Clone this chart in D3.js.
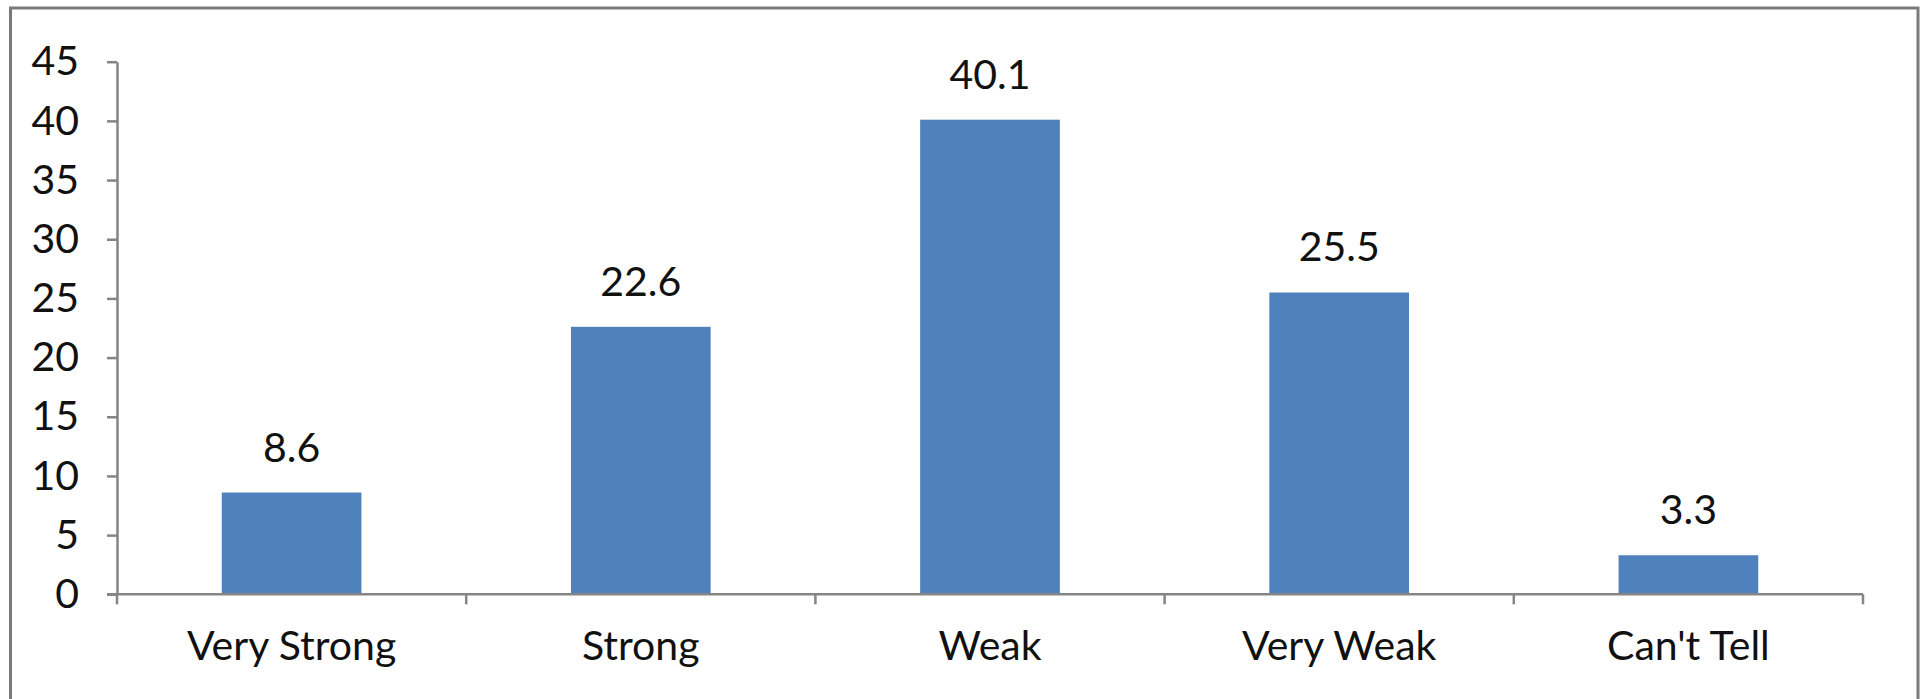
<!DOCTYPE html>
<html>
<head>
<meta charset="utf-8">
<script src="https://cdn.jsdelivr.net/npm/d3@7"></script>
<style>
  html, body { margin: 0; padding: 0; background: #fff; }
  svg { display: block; }
  text { font-family: Lato, "Open Sans", sans-serif; fill: #111; }
</style>
</head>
<body>
<svg id="chart" width="1921" height="699"></svg>
<script>
// Response shares per rating (percent)
const categories = ["Very Strong", "Strong", "Weak", "Very Weak", "Can't Tell"];
const values = [8.6, 22.6, 40.1, 25.5, 3.3];
const yTicks = [0, 5, 10, 15, 20, 25, 30, 35, 40, 45];

const W = 1921, H = 699;
const plot = { left: 117, right: 1863, top: 61.7, bottom: 594.3 };
const fontSize = 41;
const axisColor = "#858585";

const svg = d3.select("#chart");

// outer frame of the chart area (bottom edge runs off the page)
svg.append("rect")
  .attr("x", 10.5).attr("y", 8)
  .attr("width", 1918 - 10.5).attr("height", H + 20)
  .attr("fill", "#fff")
  .attr("stroke", "#7a7a7a")
  .attr("stroke-width", 3);

const x = d3.scaleBand()
  .domain(categories)
  .range([plot.left, plot.right])
  .paddingInner(0.6)
  .paddingOuter(0.3);

const y = d3.scaleLinear()
  .domain([0, 45])
  .range([plot.bottom, plot.top]);

// bars
svg.append("g")
  .selectAll("rect")
  .data(values)
  .join("rect")
  .attr("x", (d, i) => x(categories[i]))
  .attr("y", d => y(d))
  .attr("width", x.bandwidth())
  .attr("height", d => y(0) - y(d))
  .attr("fill", "#4F81BD");

// value labels
svg.append("g")
  .selectAll("text")
  .data(values)
  .join("text")
  .attr("x", (d, i) => x(categories[i]) + x.bandwidth() / 2)
  .attr("y", d => y(d) - 31)
  .attr("text-anchor", "middle")
  .attr("font-size", fontSize)
  .text(d => d.toFixed(1));

// y axis
const yAxis = svg.append("g")
  .attr("transform", `translate(${plot.left},0)`)
  .call(d3.axisLeft(y).tickValues(yTicks).tickSize(10).tickSizeOuter(0).tickPadding(28));
yAxis.select(".domain").attr("stroke", axisColor).attr("stroke-width", 2.5);
yAxis.selectAll(".tick line").attr("stroke", axisColor).attr("stroke-width", 2.5);
yAxis.selectAll(".tick text")
  .attr("font-size", fontSize)
  .attr("font-family", "Lato, 'Open Sans', sans-serif")
  .attr("fill", "#111");

// x axis: category boundary ticks pointing down
const xAxisG = svg.append("g").attr("transform", `translate(0,${plot.bottom})`);
xAxisG.append("line")
  .attr("x1", plot.left - 10).attr("x2", plot.right)
  .attr("stroke", axisColor).attr("stroke-width", 2.5);
const step = (plot.right - plot.left) / categories.length;
const boundaries = d3.range(categories.length + 1).map(i => plot.left + i * step);
xAxisG.selectAll("line.bound")
  .data(boundaries)
  .join("line")
  .attr("class", "bound")
  .attr("x1", d => d).attr("x2", d => d)
  .attr("y1", 0).attr("y2", 10)
  .attr("stroke", axisColor).attr("stroke-width", 2.5);
xAxisG.selectAll("text")
  .data(categories)
  .join("text")
  .attr("x", d => x(d) + x.bandwidth() / 2)
  .attr("y", 66)
  .attr("text-anchor", "middle")
  .attr("font-size", fontSize)
  .text(d => d);
</script>
</body>
</html>
